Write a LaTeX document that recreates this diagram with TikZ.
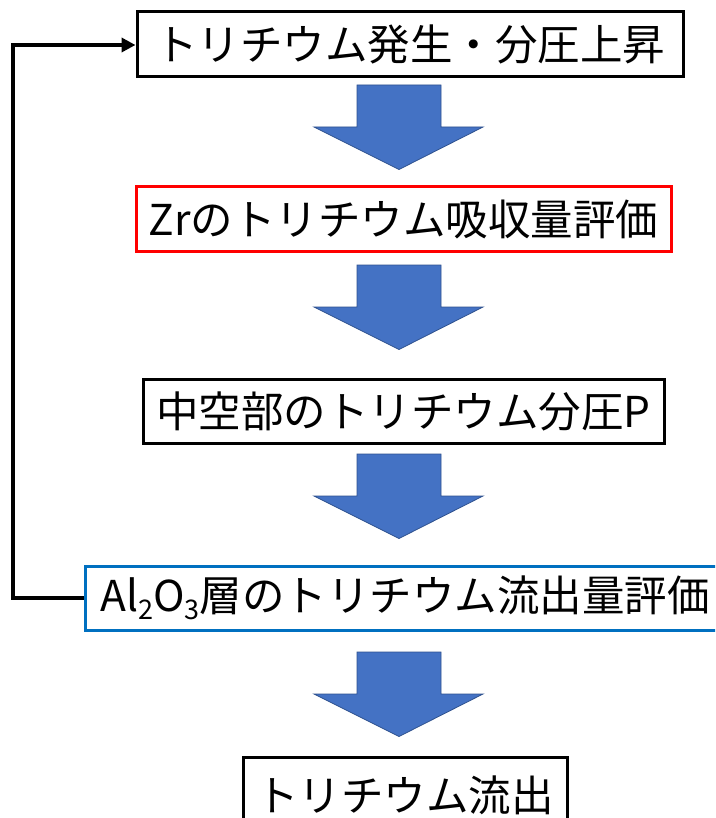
\documentclass[tikz,border=0pt]{standalone}
\usepackage{fontspec}
\setmainfont{Noto Sans CJK JP}
\usetikzlibrary{arrows.meta}
\definecolor{arrowblue}{HTML}{4472C4}
\definecolor{arrowedge}{HTML}{2F528F}
\definecolor{boxred}{HTML}{FF0000}
\definecolor{boxblue}{HTML}{0070C0}
\tikzset{
  stepbox/.style={draw=black, line width=3pt, fill=white, inner sep=0pt,
    font=\fontsize{42.5}{42.5}\selectfont, text=black},
  flowarrow/.pic={
    \fill[arrowblue, draw=arrowedge, line width=0.8pt]
      (-41.5,0) -- (42.5,0) -- (42.5,42) -- (84.5,42) -- (0.5,84.5)
      -- (-84.5,42) -- (-41.5,42) -- cycle;
  },
  loopline/.style={line width=4pt, -{Triangle[length=14pt,width=14pt]}}
}
\newcommand{\subdig}[1]{{\fontsize{27}{27}\selectfont\raisebox{-8pt}{#1}}}
\begin{document}
\begin{tikzpicture}[x=1pt,y=-1pt]
\useasboundingbox (0,0) rectangle (715,818);
\clip (0,0) rectangle (715,818);
\fill[white] (0,0) rectangle (715,818);

\node[stepbox, minimum width=546pt, minimum height=65pt] (b1) at (410,44.5) {トリチウム発生・分圧上昇};
\node[stepbox, draw=boxred, minimum width=535pt, minimum height=64pt] (b2) at (403.5,219) {Zrのトリチウム吸収量評価};
\node[stepbox, minimum width=521pt, minimum height=64pt] (b3) at (403.5,411) {中空部のトリチウム分圧P};
\node[stepbox, draw=boxblue, minimum width=640pt, minimum height=64pt] (b4) at (405,598) {Al\subdig{2}O\subdig{3}層のトリチウム流出量評価};
\node[stepbox, minimum width=324pt, minimum height=76pt] (b5) at (405,795) {トリチウム流出};

\pic at (398.5,85) {flowarrow};
\pic at (398.5,265) {flowarrow};
\pic at (398.5,454) {flowarrow};
\pic at (398.5,652) {flowarrow};

\coordinate (c1) at (13,598);
\coordinate (c2) at (13,45);
\draw[loopline] (b4.west) -- (c1) -- (c2) -- (c2 -| b1.west);
\end{tikzpicture}
\end{document}
